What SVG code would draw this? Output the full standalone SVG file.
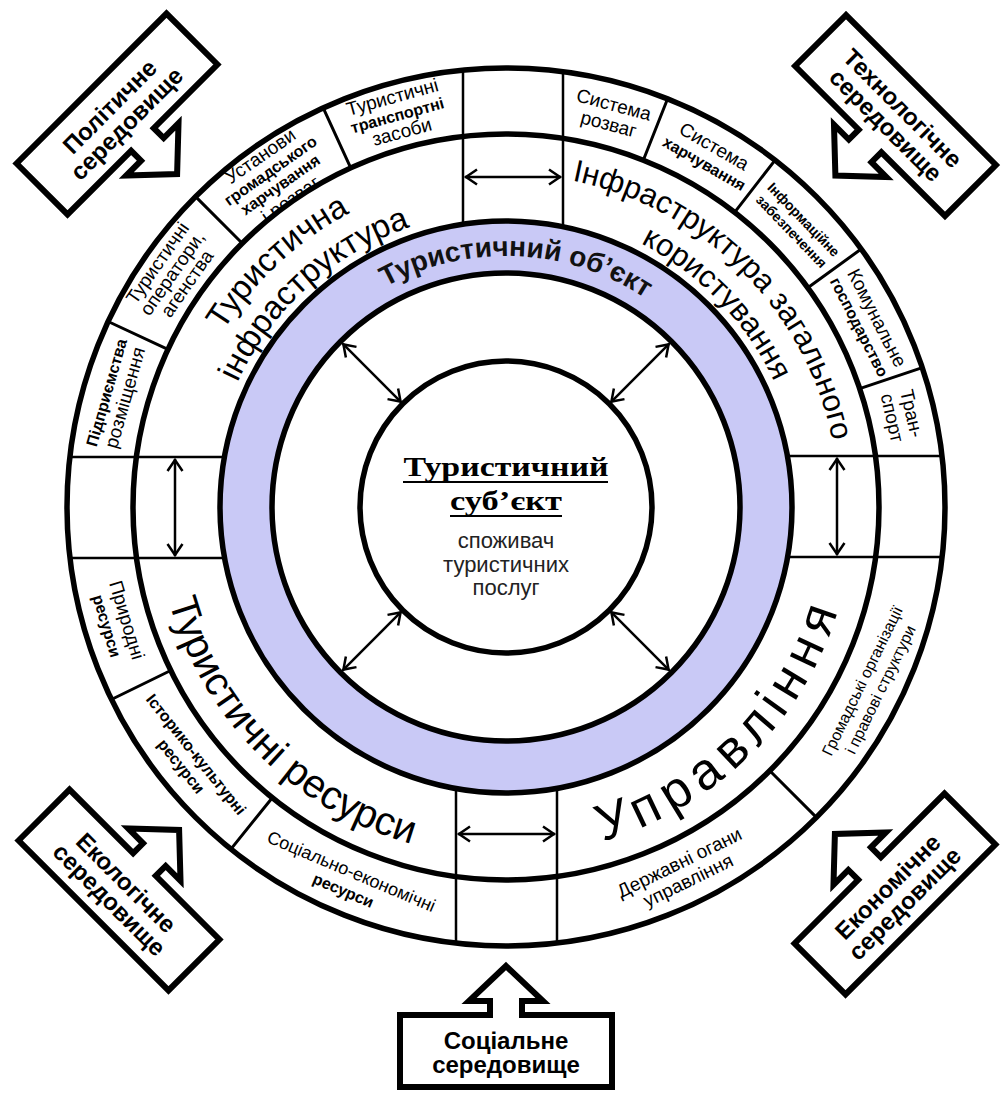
<svg xmlns="http://www.w3.org/2000/svg" width="1003" height="1101" viewBox="0 0 1003 1101">
<style>
text{font-family:"Liberation Sans",Arial,sans-serif;fill:#000}
.ring{fill:none;stroke:#000;stroke-width:5.5}
.sep{stroke:#000;stroke-width:3;fill:none}
.band{stroke:#000;stroke-width:2.5;fill:none}
.arr{stroke:#000;stroke-width:2.5;fill:none;marker-start:url(#ah);marker-end:url(#ah)}
.c{font-size:19px;text-anchor:middle}
.b{font-weight:bold;font-size:16px}
.s{font-size:16px}
.env{fill:#fff;stroke:#000;stroke-width:6;stroke-linejoin:miter}
.envt{font-size:24px;font-weight:bold;text-anchor:middle}
.serif{font-family:"Liberation Serif","Times New Roman",serif;font-weight:bold;font-size:28px;text-anchor:middle}
.sub{font-size:22px;text-anchor:middle;fill:#222}
</style>
<defs>
<marker id="ah" markerUnits="userSpaceOnUse" viewBox="-14 -10 16 20" markerWidth="16" markerHeight="20" refX="0" refY="0" orient="auto-start-reverse">
<path d="M-12,-7.5 L-1,0 L-12,7.5" fill="none" stroke="#000" stroke-width="2.5"/>
</marker>
<clipPath id="ringClip"><path clip-rule="evenodd" d="M67,507 A439,439 0 1 0 945,507 A439,439 0 1 0 67,507 Z M133,507 A373,373 0 1 0 879,507 A373,373 0 1 0 133,507 Z"/></clipPath>
<path id="tpA" d="M181.5,581.9 A333,333 0 0 1 603.4,188.6"/>
<path id="tpB" d="M216.5,568.5 A296,296 0 0 1 597.5,225.5"/>
<path id="tpC" d="M419.8,185.3 A333,333 0 0 1 827.7,593.2"/>
<path id="tpD" d="M434.4,219.8 A296,296 0 0 1 790.5,588.6"/>
<path id="tpE" d="M167.9,416.4 A350,350 0 0 0 596.6,845.1"/>
<path id="tpF" d="M415.9,843.1 A348,348 0 0 0 842.1,416.9"/>
<path id="tpG" d="M294.3,372.1 A251,251 0 0 1 728.6,391.1"/>
<path id="envUp" d="M-106,36 V-36 H-16 V-50 H-37 L0,-85 L37,-50 H16 V-36 H106 V36 Z"/>
<path id="envDn" d="M-106,-36 V36 H-16 V50 H-37 L0,85 L37,50 H16 V36 H106 V-36 Z"/>
</defs>
<rect width="1003" height="1101" fill="#fff"/>

<g id="rings">
<circle cx="506" cy="507" r="439" fill="#fff" stroke="#000" stroke-width="5.5"/>
<circle class="ring" cx="506" cy="507" r="373"/>
<circle cx="506" cy="507" r="286" fill="#c9c9f6" stroke="#000" stroke-width="5.5"/>
<circle cx="506" cy="507" r="234" fill="#fff" stroke="#000" stroke-width="5.5"/>
</g>

<g id="bands">
<path class="band" d="M463,68 V226 M563,70 V228 M456,945 V787 M557,945 V787 M68,457 H226 M68,558 H226 M944,456 H786 M944,557 H786"/>
</g>

<g id="separators">
<path class="sep" d="M167.9,349.4 L108.1,321.5 M242.2,243.2 L195.6,196.6 M350.7,167.9 L323.2,107.9 M643.3,160.2 L667.6,98.8 M734.6,212.3 L775.1,160.1 M807.8,287.8 L861.2,249 M859.7,388.6 L922.3,367.7 M769.8,770.8 L816.4,817.4 M272.3,797.7 L230.9,849.1 M170.7,670.5 L111.4,699.5"/>
</g>

<g id="cells" clip-path="url(#ringClip)">
<g id="cell-pidpryiemstva" transform="translate(115.7,395.1) rotate(-74)"><text class="c"><tspan class="b" x="0" y="-4">Підприємства</tspan><tspan x="0" y="16">розміщення</tspan></text></g>
<g id="cell-operatory" transform="translate(173.4,274.1) rotate(-55)"><text class="c"><tspan x="0" y="-13">Туристичні</tspan><tspan x="0" y="5">оператори,</tspan><tspan x="0" y="23">агенства</tspan></text></g>
<g id="cell-harchuvannia" transform="translate(273.1,174.4) rotate(-35)"><text class="c"><tspan x="0" y="-16">Установи</tspan><tspan class="b" x="0" y="1">громадського</tspan><tspan class="b" x="0" y="18">харчування</tspan><tspan x="0" y="37">і розваг</tspan></text></g>
<g id="cell-transport-zasoby" transform="translate(397.5,115.8) rotate(-15.5)"><text class="c"><tspan x="0" y="-13">Туристичні</tspan><tspan class="b" x="0" y="5">транспортні</tspan><tspan x="0" y="23">засоби</tspan></text></g>
<g id="cell-rozvagy" transform="translate(611.1,114.8) rotate(15)"><text class="c"><tspan x="0" y="-4">Система</tspan><tspan x="0" y="16">розваг</tspan></text></g>
<g id="cell-systema-harch" transform="translate(709,155.4) rotate(30)"><text class="c"><tspan x="0" y="-4">Система</tspan><tspan class="b" x="0" y="15">харчування</tspan></text></g>
<g id="cell-info" transform="translate(798,225) rotate(46)"><text class="c" style="font-weight:bold;font-size:14px"><tspan x="0" y="-3">Інформаційне</tspan><tspan x="0" y="14">забезпечення</tspan></text></g>
<g id="cell-komunalne" transform="translate(867.7,322.7) rotate(63)"><text class="c"><tspan x="0" y="-4">Комунальне</tspan><tspan class="b" x="0" y="15">господарство</tspan></text></g>
<g id="cell-transport" transform="translate(901.6,415.7) rotate(77)"><text class="c"><tspan x="0" y="-4">Тран-</tspan><tspan x="0" y="16">спорт</tspan></text></g>
<g id="cell-hromadski" transform="translate(870.9,685) rotate(-64)"><text class="c" style="font-size:16px"><tspan x="0" y="-4">Громадські організації</tspan><tspan x="0" y="16">і правові структури</tspan></text></g>
<g id="cell-derzhavni" transform="translate(684,871.9) rotate(-26)"><text class="c"><tspan x="0" y="-4">Державні огани</tspan><tspan x="0" y="16">управління</tspan></text></g>
<g id="cell-sotsialno" transform="translate(347.4,880.7) rotate(23)"><text class="c" style="font-size:18px"><tspan x="0" y="-4">Соціально-економічні</tspan><tspan class="b" x="0" y="16">ресурси</tspan></text></g>
<g id="cell-istoryko" transform="translate(188.7,760.3) rotate(51.4)"><text class="c"><tspan class="b" x="0" y="-4">Історико-культурні</tspan><tspan class="b" x="0" y="15">ресурси</tspan></text></g>
<g id="cell-pryrodni" transform="translate(116.9,623) rotate(73.4)"><text class="c"><tspan x="0" y="-4">Природні</tspan><tspan class="b" x="0" y="16">ресурси</tspan></text></g>
</g>

<g id="sectors">
<g id="sector-tur-infra"><text style="font-size:33px"><textPath href="#tpA" startOffset="50%" text-anchor="middle">Туристична</textPath></text><text style="font-size:33px"><textPath href="#tpB" startOffset="50%" text-anchor="middle">інфраструктура</textPath></text></g>
<g id="sector-zag-infra"><text style="font-size:31px"><textPath href="#tpC" startOffset="50%" text-anchor="middle">Інфраструктура загального</textPath></text><text style="font-size:31px"><textPath href="#tpD" startOffset="50%" text-anchor="middle">користування</textPath></text></g>
<g id="sector-resursy"><text style="font-size:40px"><textPath href="#tpE" startOffset="50%" text-anchor="middle">Туристичні ресурси</textPath></text></g>
<g id="sector-upravlinnia"><text style="font-size:52px;letter-spacing:8px"><textPath href="#tpF" startOffset="50%" text-anchor="middle">Управління</textPath></text></g>
</g>

<g id="object"><text style="font-size:28px;font-weight:bold;fill:#111"><textPath href="#tpG" startOffset="50%" text-anchor="middle">Туристичний об’єкт</textPath></text></g>

<g id="subject">
<circle cx="506" cy="507" r="146" fill="#fff" stroke="#000" stroke-width="5.5"/>
<text class="serif" x="506" y="476" textLength="205" lengthAdjust="spacingAndGlyphs">Туристичний</text>
<text class="serif" x="506" y="510" textLength="112" lengthAdjust="spacingAndGlyphs">суб’єкт</text>
<path d="M403,482 H608 M450,516 H562" stroke="#000" stroke-width="2"/>
<text class="sub" x="506" y="548">споживач</text>
<text class="sub" x="506" y="572">туристичних</text>
<text class="sub" x="506" y="595">послуг</text>
</g>

<g id="connectors">
<path class="arr" d="M465,177 H561"/>
<path class="arr" d="M458,834 H555"/>
<path class="arr" d="M175,459 V556"/>
<path class="arr" d="M837,458 V555"/>
<path class="arr" d="M401.3,402.3 L342.7,343.7"/>
<path class="arr" d="M610.7,402.3 L669.3,343.7"/>
<path class="arr" d="M610.7,611.7 L669.3,670.3"/>
<path class="arr" d="M401.3,611.7 L342.7,670.3"/>
</g>

<g id="environments">
<g id="env-politychne" transform="translate(117,114) rotate(-45)"><use href="#envDn" class="env"/><text class="envt" y="-2">Політичне</text><text class="envt" y="22">середовище</text></g>
<g id="env-tekhnolohichne" transform="translate(895.5,115.5) rotate(45)"><use href="#envDn" class="env"/><text class="envt" y="-2">Технологічне</text><text class="envt" y="22">середовище</text></g>
<g id="env-ekolohichne" transform="translate(119,890) rotate(45)"><use href="#envUp" class="env"/><text class="envt" y="-2">Екологічне</text><text class="envt" y="22">середовище</text></g>
<g id="env-ekonomichne" transform="translate(895,894) rotate(-45)"><use href="#envUp" class="env"/><text class="envt" y="-2">Економічне</text><text class="envt" y="22">середовище</text></g>
<g id="env-sotsialne" transform="translate(506,1051)"><use href="#envUp" class="env"/><text class="envt" y="-2">Соціальне</text><text class="envt" y="22">середовище</text></g>
</g>
</svg>
